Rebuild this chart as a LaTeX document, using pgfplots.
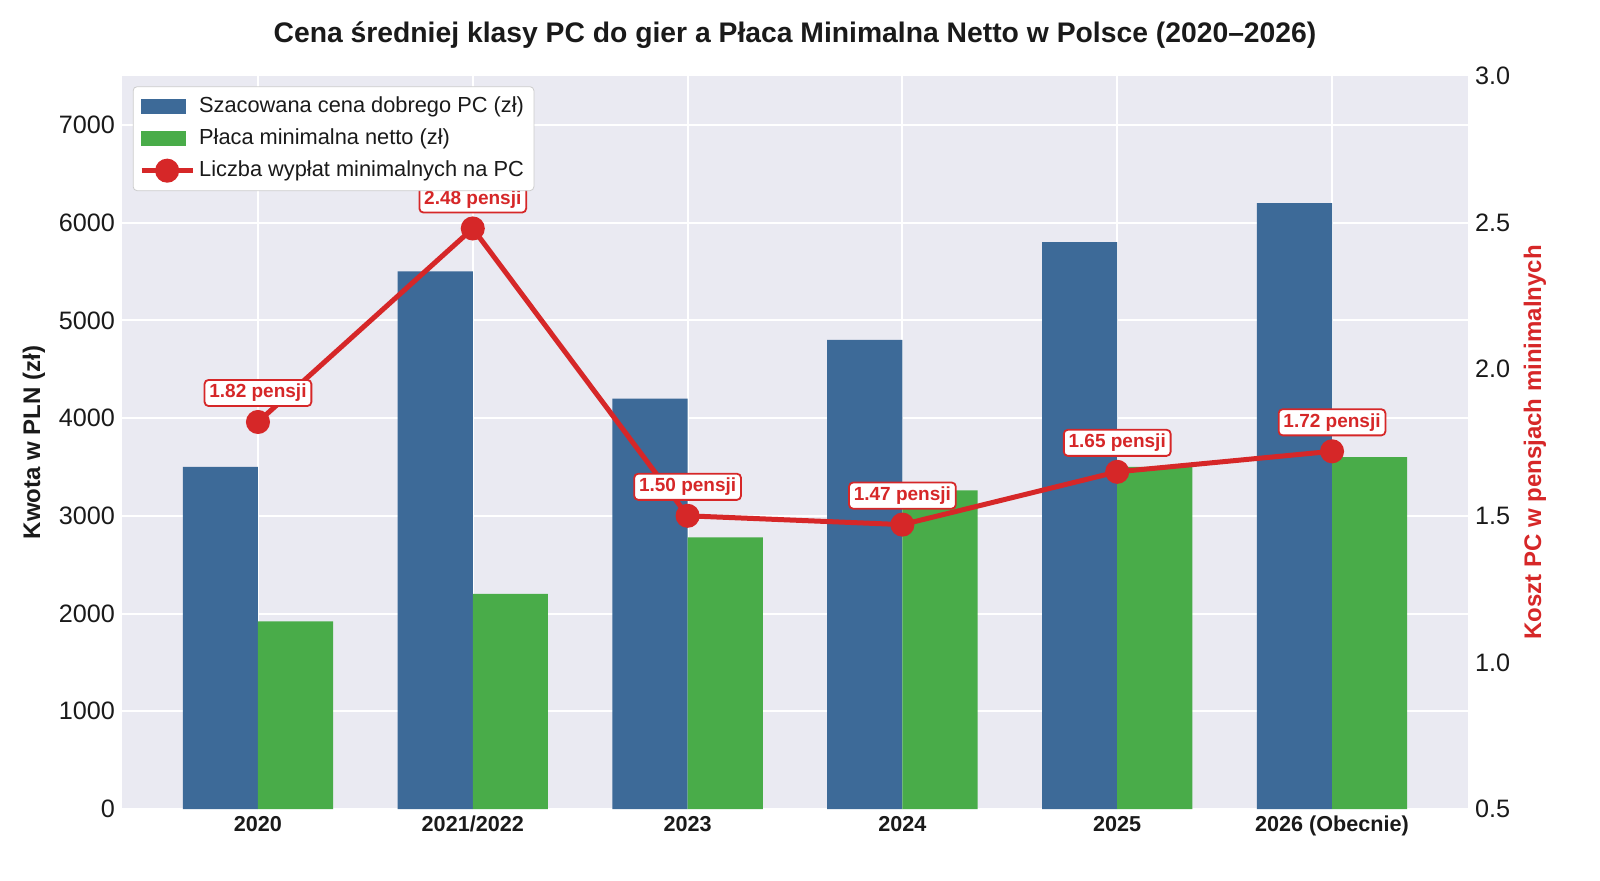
\documentclass[border=0pt]{standalone}
\usepackage{pgfplots}
\pgfplotsset{compat=1.18}
\usepackage{fontspec}
\setmainfont{Liberation Sans}
\definecolor{bgc}{HTML}{EAEAF2}
\definecolor{barblue}{HTML}{3D6A98}
\definecolor{bargreen}{HTML}{49AC49}
\definecolor{linered}{HTML}{D62728}
\definecolor{txt}{HTML}{1A1A1A}
\pgfplotsset{mylinelegend/.style={legend image code/.code={\draw[sharp corners,mark repeat=2,mark phase=2,##1] plot coordinates {(0pt,0pt) (12.75pt,0pt) (25.5pt,0pt)};}}}
\begin{document}
\begin{tikzpicture}
\useasboundingbox (0,0) rectangle (800pt,440pt);
\node[font=\fontsize{14.15}{16}\selectfont\bfseries, text=txt] at (397.5pt,422.5pt) {Cena średniej klasy PC do gier a Płaca Minimalna Netto w Polsce (2020–2026)};
\begin{axis}[
  at={(61pt,35.5pt)}, anchor=south west,
  scale only axis, width=673pt, height=366.5pt,
  xmin=-0.633, xmax=5.633, ymin=0, ymax=7500,
  xtick={0,...,5},
  xticklabels={2020,2021/2022,2023,2024,2025,2026 (Obecnie)},
  ytick={0,1000,...,7000},
  axis background/.style={fill=bgc},
  axis line style={draw=none},
  major tick length=0pt,
  xmajorgrids, ymajorgrids,
  grid style={white, line width=1pt},
  /pgf/number format/assume math mode=true,
  /pgf/number format/1000 sep={},
  yticklabel style={font=\fontsize{12.6}{14}\selectfont, text=txt},
  xticklabel style={font=\fontsize{10.8}{12}\selectfont\bfseries, text=txt},
  ylabel={Kwota w PLN (zł)},
  ylabel style={font=\fontsize{12}{14}\selectfont\bfseries, text=txt},
]
\addplot[ybar, bar width=0.35, bar shift=-0.175, fill=barblue, draw=none] coordinates {(0,3500) (1,5500) (2,4200) (3,4800) (4,5800) (5,6200)};
\addplot[ybar, bar width=0.35, bar shift=0.175, fill=bargreen, draw=none] coordinates {(0,1920) (1,2200) (2,2780) (3,3260) (4,3500) (5,3600)};
\end{axis}
\begin{axis}[
  at={(61pt,35.5pt)}, anchor=south west,
  scale only axis, width=673pt, height=366.5pt,
  xmin=-0.633, xmax=5.633, ymin=0.5, ymax=3.0,
  axis x line=none, axis y line*=right,
  axis line style={draw=none},
  major tick length=0pt,
  ytick={0.5,1.0,1.5,2.0,2.5,3.0},
  /pgf/number format/assume math mode=true,
  yticklabel style={font=\fontsize{12.6}{14}\selectfont, text=txt, /pgf/number format/.cd, fixed, fixed zerofill, precision=1},
  ylabel={Koszt PC w pensjach minimalnych},
  ylabel style={font=\fontsize{12}{14}\selectfont\bfseries, text=linered},
  legend cell align=left,
  legend style={at={(0.008,0.986)}, anchor=north west, draw=black!20, fill=white, rounded corners=2pt,
    font=\fontsize{10.9}{13}\selectfont, text=txt,
    nodes={text height=8pt, text depth=2.5pt, inner ysep=2.75pt},
    /tikz/every even column/.append style={column sep=3pt}},
]
\addlegendimage{legend image code/.code={\fill[barblue, sharp corners] (0pt,-3.5pt) rectangle (22pt,3.5pt);}}
\addlegendentry{Szacowana cena dobrego PC (zł)}
\addlegendimage{legend image code/.code={\fill[bargreen, sharp corners] (0pt,-3.5pt) rectangle (22pt,3.5pt);}}
\addlegendentry{Płaca minimalna netto (zł)}
\addplot[linered, line width=2.5pt, mark=*, mark size=4.75pt, mark options={draw=none, fill=linered},
  mylinelegend,
  point meta=explicit symbolic, nodes near coords,
  every node near coord/.style={anchor=center, yshift=14.5pt, draw=linered, fill=white, rounded corners=2pt, line width=0.9pt,
    font=\fontsize{9.5}{11}\selectfont\bfseries, text=linered, inner xsep=2.4pt, inner ysep=2.1pt}]
  coordinates {(0,1.82) [1.82 pensji] (1,2.48) [2.48 pensji] (2,1.50) [1.50 pensji] (3,1.47) [1.47 pensji] (4,1.65) [1.65 pensji] (5,1.72) [1.72 pensji]};
\addlegendentry{Liczba wypłat minimalnych na PC}
\end{axis}
\end{tikzpicture}
\end{document}
